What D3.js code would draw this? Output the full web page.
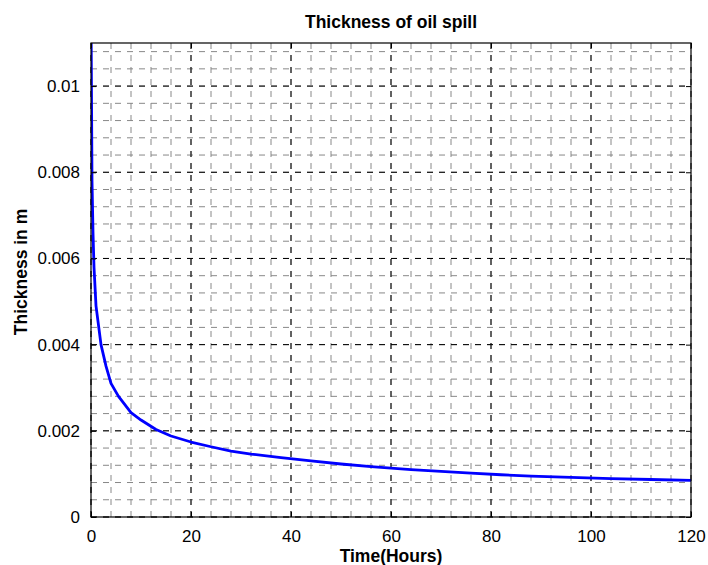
<!DOCTYPE html>
<html>
<head>
<meta charset="utf-8">
<script src="https://cdn.jsdelivr.net/npm/d3@7"></script>
<style>
    body { margin: 0; background: #fff; }
    #chart { width: 708px; height: 565px; }
</style>
</head>
<body>
<div id="chart"></div>
<script>
// time in hours and thickness in m
const timeHours = [0, 0.2, 0.4, 0.6, 1, 2, 3, 4, 5.5, 8, 10, 13, 16, 20, 24, 28, 32, 38, 44, 50, 56, 64, 70, 76, 82, 88, 96, 104, 112, 120];
const thickness = [0.0118, 0.0078, 0.0066, 0.0058, 0.0049, 0.0040, 0.0035, 0.0031, 0.0028, 0.00242, 0.00225, 0.00203, 0.00188, 0.00174, 0.00163, 0.00153, 0.00146, 0.00138, 0.0013, 0.00123, 0.00117, 0.0011, 0.00106, 0.00102, 0.00098, 0.00095, 0.00092, 0.00089, 0.00087, 0.00085];

const xTicks = [0, 20, 40, 60, 80, 100, 120];
const xTickLabels = ["0", "20", "40", "60", "80", "100", "120"];
const yTicks = [0, 0.002, 0.004, 0.006, 0.008, 0.01];
const yTickLabels = ["0", "0.002", "0.004", "0.006", "0.008", "0.01"];
const xMinorTicks = d3.range(0, 121, 4);
const yMinorTicks = d3.range(0, 28).map(i => i * 0.0004);

const titleText = "Thickness of oil spill";
const xLabelText = "Time(Hours)";
const yLabelText = "Thickness in m";

class SpillChart {

    constructor(element) {
        this.element = element;
        this.data = timeHours.map((t, i) => ({ t: t, v: thickness[i] }));
        this.initVis();
    }

    initVis() {
        const vis = this;

        vis.margin = { top: 43, right: 17, bottom: 48, left: 91 };
        vis.width = 708 - vis.margin.left - vis.margin.right;
        vis.height = 565 - vis.margin.top - vis.margin.bottom;

        vis.svg = d3.select("#" + vis.element).append("svg")
            .attr("width", 708)
            .attr("height", 565)
            .append("g")
            .attr("transform", "translate(" + vis.margin.left + "," + vis.margin.top + ")");

        vis.x = d3.scaleLinear().domain([0, 120]).range([0, vis.width]);
        vis.y = d3.scaleLinear().domain([0, 0.011]).range([vis.height, 0]);

        vis.font = "'Liberation Sans', Arial, sans-serif";

        vis.updateVis();
    }

    updateVis() {
        const vis = this;

        // minor grid (grey dashed)
        const grid = vis.svg.append("g").attr("class", "grid");
        grid.selectAll(".vminor")
            .data(xMinorTicks.filter(d => d < 120))
            .enter().append("line")
            .attr("x1", d => vis.x(d)).attr("x2", d => vis.x(d))
            .attr("y1", 0).attr("y2", vis.height)
            .attr("stroke", "#888")
            .attr("stroke-dasharray", "6,6");
        grid.selectAll(".hminor")
            .data(yMinorTicks.filter(d => d < 0.011))
            .enter().append("line")
            .attr("y1", d => vis.y(d)).attr("y2", d => vis.y(d))
            .attr("x1", 0).attr("x2", vis.width)
            .attr("stroke", "#888")
            .attr("stroke-dasharray", "6,6");

        // major grid (black dashed)
        grid.selectAll(".vmajor")
            .data(xTicks)
            .enter().append("line")
            .attr("x1", d => vis.x(d)).attr("x2", d => vis.x(d))
            .attr("y1", 0).attr("y2", vis.height)
            .attr("stroke", "#000")
            .attr("stroke-dasharray", "6,6");
        grid.selectAll(".hmajor")
            .data(yTicks)
            .enter().append("line")
            .attr("y1", d => vis.y(d)).attr("y2", d => vis.y(d))
            .attr("x1", 0).attr("x2", vis.width)
            .attr("stroke", "#000")
            .attr("stroke-dasharray", "6,6");

        // the curve, clipped to the axes box
        vis.svg.append("clipPath").attr("id", "clip")
            .append("rect").attr("width", vis.width).attr("height", vis.height);

        const line = d3.line()
            .x(d => vis.x(d.t))
            .y(d => vis.y(d.v));

        vis.svg.append("path")
            .datum(vis.data)
            .attr("clip-path", "url(#clip)")
            .attr("fill", "none")
            .attr("stroke", "#0000ff")
            .attr("stroke-width", 2.8)
            .attr("stroke-linejoin", "round")
            .attr("d", line);

        // axes with inward ticks on all four sides
        const tickStyle = g => {
            g.select(".domain").remove();
            g.selectAll("line").attr("stroke", "#000");
            g.selectAll("text")
                .style("font-family", vis.font)
                .style("font-size", "17px")
                .attr("fill", "#000");
        };

        vis.svg.append("g")
            .attr("transform", `translate(0,${vis.height})`)
            .call(d3.axisBottom(vis.x).tickValues(xTicks)
                .tickFormat((d, i) => xTickLabels[i])
                .tickSizeInner(-5).tickPadding(13))
            .call(tickStyle);

        vis.svg.append("g")
            .call(d3.axisLeft(vis.y).tickValues(yTicks)
                .tickFormat((d, i) => yTickLabels[i])
                .tickSizeInner(-5).tickPadding(11))
            .call(tickStyle);

        vis.svg.append("g")
            .call(d3.axisTop(vis.x).tickValues(xTicks).tickFormat("").tickSizeInner(-5))
            .call(tickStyle);

        vis.svg.append("g")
            .attr("transform", `translate(${vis.width},0)`)
            .call(d3.axisRight(vis.y).tickValues(yTicks).tickFormat("").tickSizeInner(-5))
            .call(tickStyle);

        // box
        vis.svg.append("rect")
            .attr("width", vis.width)
            .attr("height", vis.height)
            .attr("fill", "none")
            .attr("stroke", "#000")
            .attr("stroke-width", 1.2);

        // title
        vis.svg.append("text")
            .attr("x", vis.width / 2)
            .attr("y", -15)
            .style("text-anchor", "middle")
            .style("font-family", vis.font)
            .style("font-weight", "bold")
            .style("font-size", "17.5px")
            .text(titleText);

        // X-axis label
        vis.svg.append("text")
            .attr("x", vis.width / 2)
            .attr("y", vis.height + 45)
            .style("text-anchor", "middle")
            .style("font-family", vis.font)
            .style("font-weight", "bold")
            .style("font-size", "17.5px")
            .text(xLabelText);

        // Y-axis label
        vis.svg.append("text")
            .attr("transform", `translate(${-vis.margin.left + 27},${vis.height / 2 - 8}) rotate(-90)`)
            .style("text-anchor", "middle")
            .style("font-family", vis.font)
            .style("font-weight", "bold")
            .style("font-size", "17.5px")
            .text(yLabelText);
    }
}

new SpillChart("chart");
</script>
</body>
</html>
